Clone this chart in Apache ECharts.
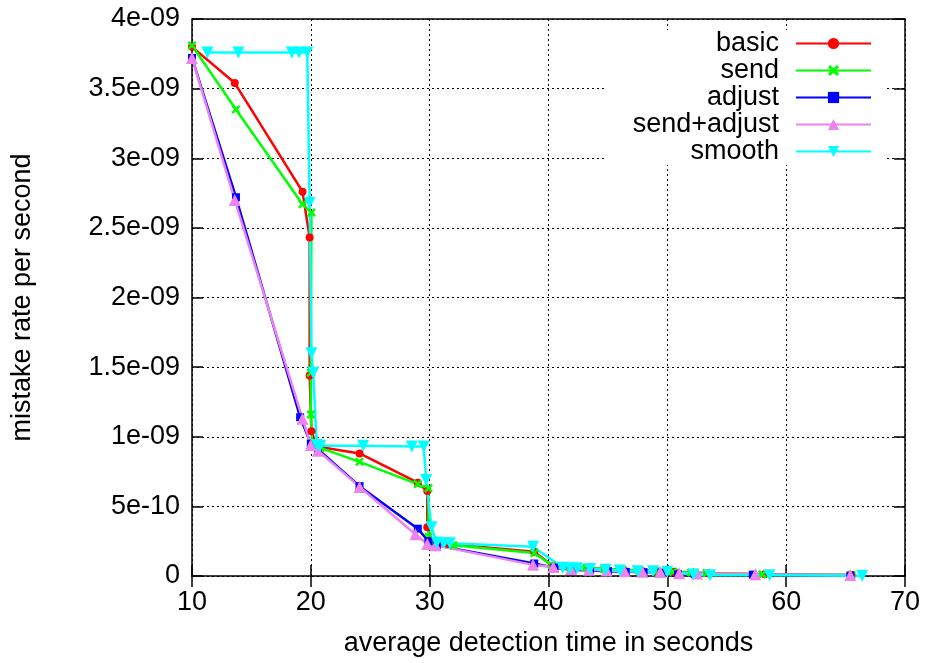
<!DOCTYPE html>
<html>
<head>
<meta charset="utf-8">
<script src="https://cdn.jsdelivr.net/npm/echarts@6/dist/echarts.min.js"></script>
<style>
  html, body { margin: 0; padding: 0; background: #fff; }
  #chart { width: 926px; height: 663px; }
</style>
</head>
<body>
<div id="chart"></div>
<script>
// Mistake rate versus average detection time for five failure-detector variants.
const seriesNames = ['basic', 'send', 'adjust', 'send+adjust', 'smooth'];

const basic = [
  [10.0, 3.80e-9], [13.6, 3.54e-9], [19.3, 2.76e-9], [19.9, 2.43e-9], [19.9, 1.44e-9],
  [20.05, 1.04e-9], [20.5, 0.93e-9], [24.1, 0.88e-9], [29.0, 0.67e-9], [29.8, 0.61e-9],
  [29.8, 0.35e-9], [30.2, 0.25e-9], [31.5, 0.23e-9], [38.8, 0.175e-9], [40.4, 0.07e-9],
  [41.8, 0.06e-9], [43.3, 0.055e-9], [44.8, 0.05e-9], [46.3, 0.045e-9], [47.8, 0.04e-9],
  [49.1, 0.035e-9], [50.6, 0.03e-9], [52.2, 0.025e-9], [53.4, 0.02e-9], [58.2, 0.012e-9],
  [65.5, 0.008e-9]
];

const send = [
  [10.0, 3.81e-9], [13.7, 3.35e-9], [19.3, 2.67e-9], [20.05, 2.61e-9], [20.0, 1.46e-9],
  [20.0, 1.16e-9], [20.1, 0.95e-9], [20.8, 0.92e-9], [24.1, 0.82e-9], [29.0, 0.66e-9],
  [29.9, 0.63e-9], [29.9, 0.28e-9], [30.4, 0.23e-9], [32.0, 0.22e-9], [38.8, 0.165e-9],
  [40.3, 0.075e-9], [41.8, 0.065e-9], [43.2, 0.058e-9], [44.7, 0.05e-9], [46.2, 0.045e-9],
  [47.6, 0.04e-9], [49.1, 0.035e-9], [50.5, 0.03e-9], [52.0, 0.025e-9], [53.3, 0.02e-9],
  [58.0, 0.012e-9], [65.5, 0.008e-9]
];

const adjust = [
  [10.0, 3.72e-9], [13.7, 2.72e-9], [19.1, 1.14e-9], [20.0, 0.95e-9], [20.6, 0.91e-9],
  [24.1, 0.645e-9], [29.0, 0.34e-9], [29.9, 0.25e-9], [30.6, 0.22e-9], [38.8, 0.09e-9],
  [40.5, 0.06e-9], [42.0, 0.045e-9], [43.5, 0.04e-9], [45.0, 0.035e-9], [46.5, 0.03e-9],
  [48.0, 0.028e-9], [49.5, 0.025e-9], [50.9, 0.012e-9], [52.3, 0.015e-9], [57.2, 0.01e-9],
  [65.4, 0.003e-9]
];

const sendAdjust = [
  [10.0, 3.72e-9], [13.6, 2.70e-9], [19.3, 1.13e-9], [20.0, 0.94e-9], [20.6, 0.90e-9],
  [24.1, 0.64e-9], [28.8, 0.30e-9], [29.8, 0.23e-9], [30.5, 0.22e-9], [38.7, 0.08e-9],
  [40.4, 0.065e-9], [41.9, 0.05e-9], [43.4, 0.045e-9], [44.9, 0.04e-9], [46.4, 0.035e-9],
  [47.9, 0.03e-9], [49.4, 0.028e-9], [51.0, 0.02e-9], [52.5, 0.018e-9], [57.4, 0.012e-9],
  [65.4, 0.008e-9]
];

const smooth = [
  [11.3, 3.76e-9], [13.9, 3.76e-9], [18.4, 3.76e-9], [19.0, 3.76e-9], [19.7, 3.76e-9],
  [19.9, 2.68e-9], [20.05, 1.60e-9], [20.2, 1.46e-9], [20.5, 0.94e-9], [20.8, 0.935e-9],
  [24.4, 0.935e-9], [28.5, 0.93e-9], [29.5, 0.93e-9], [29.7, 0.69e-9], [30.15, 0.35e-9],
  [30.6, 0.24e-9], [31.2, 0.235e-9], [31.7, 0.235e-9], [38.7, 0.21e-9], [41.2, 0.06e-9],
  [41.8, 0.055e-9], [42.4, 0.055e-9], [43.5, 0.05e-9], [44.8, 0.045e-9], [46.0, 0.04e-9],
  [47.5, 0.035e-9], [48.8, 0.035e-9], [50.0, 0.03e-9], [52.2, 0.01e-9], [53.6, 0.005e-9],
  [58.6, 0.005e-9], [66.4, 0.002e-9]
];

const yTickLabels = ['0', '5e-10', '1e-09', '1.5e-09', '2e-09', '2.5e-09', '3e-09', '3.5e-09', '4e-09'];
const xTickLabels = ['10', '20', '30', '40', '50', '60', '70'];

const FONT = "'Liberation Sans', Arial, Helvetica, sans-serif";
const FS = 27;

// Filled "x" cross marker
const crossPath = 'path://M0,2 L2,0 L5,3 L8,0 L10,2 L7,5 L10,8 L8,10 L5,7 L2,10 L0,8 L3,5 Z';

function makeSeries(name, data, color, symbol, size, rotate) {
  return {
    name: name,
    type: 'line',
    data: data,
    color: color,
    symbol: symbol,
    symbolSize: size,
    symbolRotate: rotate || 0,
    showAllSymbol: true,
    lineStyle: { color: color, width: 2.5 },
    itemStyle: { color: color },
    emphasis: { disabled: true },
    animation: false
  };
}

const chart = echarts.init(document.getElementById('chart'), null, { renderer: 'canvas' });

const tickStyle = { color: '#000', width: 1.5 };

chart.setOption({
  backgroundColor: '#fff',
  textStyle: { fontFamily: FONT },
  grid: {
    left: 192, right: 21, top: 19, bottom: 87,
    show: true, borderColor: '#000', borderWidth: 1.5, backgroundColor: 'transparent'
  },
  legend: {
    data: seriesNames,
    orient: 'vertical',
    right: 41,
    top: 30,
    align: 'right',
    padding: [0, 13, 0, 7],
    itemGap: 0,
    itemWidth: 75,
    itemHeight: 14,
    backgroundColor: '#fff',
    selectedMode: false,
    textStyle: {
      fontFamily: FONT, fontSize: FS, color: '#000',
      width: 165, align: 'right', lineHeight: 27,
      padding: [0, 12, 0, 0]
    }
  },
  xAxis: [
    {
      type: 'value', min: 10, max: 70, interval: 10, position: 'bottom',
      axisLine: { show: false },
      axisTick: { inside: true, length: 11, lineStyle: tickStyle },
      axisLabel: {
        color: '#000', fontSize: FS, fontFamily: FONT, margin: 13,
        formatter: function (v) { return xTickLabels[Math.round((v - 10) / 10)]; }
      },
      splitLine: { show: true, lineStyle: { color: '#000', width: 1, type: [2, 3] } },
      name: 'average detection time in seconds',
      nameLocation: 'middle',
      nameGap: 54,
      nameTextStyle: { color: '#000', fontSize: FS, fontFamily: FONT }
    },
    {
      type: 'value', min: 10, max: 70, interval: 10, position: 'top',
      axisLine: { show: false },
      axisTick: { inside: true, length: 11, lineStyle: tickStyle },
      axisLabel: { show: false },
      splitLine: { show: false }
    }
  ],
  yAxis: [
    {
      type: 'value', min: 0, max: 4e-9, interval: 5e-10, position: 'left',
      axisLine: { show: false },
      axisTick: { inside: true, length: 11, lineStyle: tickStyle },
      axisLabel: {
        color: '#000', fontSize: FS, fontFamily: FONT, margin: 12,
        formatter: function (v) { return yTickLabels[Math.round(v / 5e-10)]; }
      },
      splitLine: { show: true, lineStyle: { color: '#000', width: 1, type: [2, 3] } },
      name: 'mistake rate per second',
      nameLocation: 'middle',
      nameGap: 156,
      nameRotate: 90,
      nameTextStyle: { color: '#000', fontSize: FS, fontFamily: FONT }
    },
    {
      type: 'value', min: 0, max: 4e-9, interval: 5e-10, position: 'right',
      axisLine: { show: false },
      axisTick: { inside: true, length: 11, lineStyle: tickStyle },
      axisLabel: { show: false },
      splitLine: { show: false }
    }
  ],
  series: [
    makeSeries('basic', basic, '#ff0000', 'circle', 8),
    makeSeries('send', send, '#00ff00', crossPath, 9),
    makeSeries('adjust', adjust, '#0000ff', 'rect', 8),
    makeSeries('send+adjust', sendAdjust, '#ee82ee', 'triangle', 12),
    makeSeries('smooth', smooth, '#00ffff', 'triangle', 12, 180)
  ],
  animation: false
});
</script>
</body>
</html>
